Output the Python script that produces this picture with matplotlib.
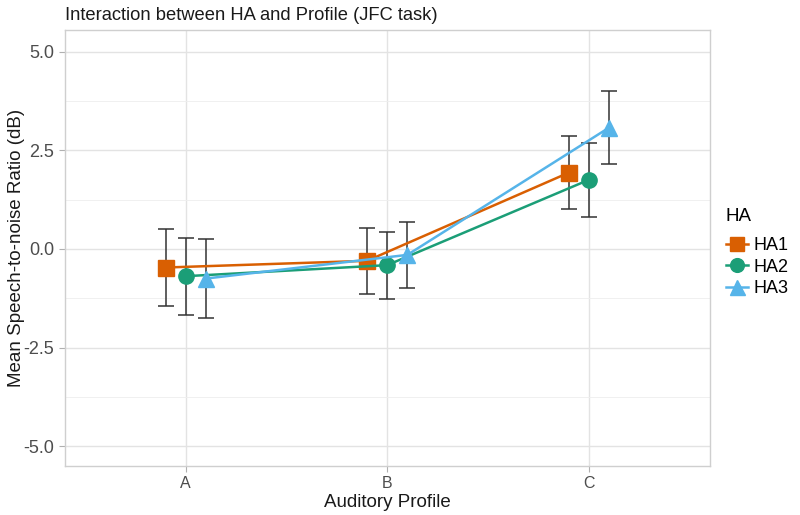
import numpy as np
import matplotlib.pyplot as plt

plt.rcParams["font.family"] = ["Liberation Sans", "DejaVu Sans"]

# data
profiles = ["A", "B", "C"]
groups = ["HA1", "HA2", "HA3"]
means = {
    "HA1": [-0.47, -0.30, 1.93],
    "HA2": [-0.69, -0.41, 1.75],
    "HA3": [-0.75, -0.15, 3.07],
}
errs = {
    "HA1": [0.97, 0.84, 0.93],
    "HA2": [0.98, 0.85, 0.93],
    "HA3": [1.00, 0.84, 0.93],
}
colors = {"HA1": "#D95F02", "HA2": "#1B9E77", "HA3": "#56B4E9"}
markers = {"HA1": "s", "HA2": "o", "HA3": "^"}
msizes = {"HA1": 11, "HA2": 11, "HA3": 12}
dodge = {"HA1": -0.1, "HA2": 0.0, "HA3": 0.1}

fig = plt.figure(figsize=(8, 5.15), dpi=100)
ax = fig.add_axes([0.081, 0.095, 0.806, 0.847])

x = np.arange(1, len(profiles) + 1)
for g in groups:
    xs = x + dodge[g]
    ax.errorbar(xs, means[g], yerr=errs[g], fmt="none", ecolor="#333333",
                elinewidth=1.1, capsize=6, capthick=1.1, zorder=2)
for g in groups:
    xs = x + dodge[g]
    ax.plot(xs, means[g], color=colors[g], lw=1.8, marker=markers[g],
            ms=msizes[g], label=g, zorder=3)

ax.set_xlim(0.4, 3.6)
ax.set_ylim(-5.5, 5.55)
ax.set_xticks(x)
ax.set_xticklabels(profiles)
ax.set_yticks([-5.0, -2.5, 0.0, 2.5, 5.0])
ax.set_yticklabels(["-5.0", "-2.5", "0.0", "2.5", "5.0"])
ax.set_yticks([-3.75, -1.25, 1.25, 3.75], minor=True)
ax.grid(True, which="major", color="#e3e3e3", lw=1.0)
ax.grid(True, which="minor", axis="y", color="#eeeeee", lw=0.6)
ax.set_axisbelow(True)
for s in ax.spines.values():
    s.set_color("#cfcfcf")
    s.set_linewidth(1.0)
ax.tick_params(axis="both", which="major", colors="#b0b0b0", length=4,
               labelcolor="#4d4d4d", labelsize=13)
ax.tick_params(axis="x", labelsize=11.5)
ax.tick_params(which="minor", length=0)

ax.set_xlabel("Auditory Profile", fontsize=13.5, color="#1a1a1a", labelpad=2)
ax.set_ylabel("Mean Speech-to-noise Ratio (dB)", fontsize=13.5, color="#1a1a1a")
ax.yaxis.set_label_coords(-0.062, 0.5)
ax.set_title("Interaction between HA and Profile (JFC task)", fontsize=13.2,
             loc="left", x=0.0, pad=7, color="#1a1a1a")

leg = ax.legend(title="HA", loc="center left", bbox_to_anchor=(1.0, 0.49),
                frameon=False, fontsize=13, title_fontsize=13.5,
                handletextpad=0.35, handlelength=1.2, labelspacing=0.25,
                markerscale=0.9)
leg._legend_box.align = "left"
leg._legend_box.sep = 9

fig.savefig("out.png", dpi=100)
